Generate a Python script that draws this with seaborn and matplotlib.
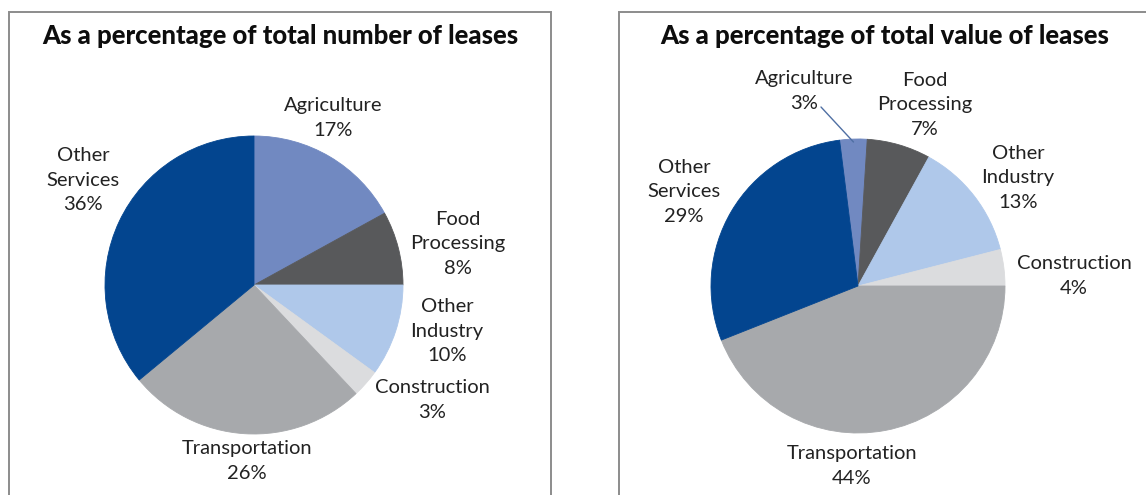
import matplotlib
matplotlib.use("Agg")
import matplotlib.pyplot as plt
import seaborn as sns
import numpy as np
from matplotlib.patches import Rectangle

# Data
categories = ["Agriculture", "Food\nProcessing", "Other\nIndustry",
              "Construction", "Transportation", "Other\nServices"]
share_number = [17, 8, 10, 3, 26, 36]   # % of total number of leases
share_value = [3, 7, 13, 4, 44, 29]     # % of total value of leases
titles = ["As a percentage of total number of leases",
          "As a percentage of total value of leases"]

colors = ["#7189c1", "#58595b", "#afc8ea", "#dbdcde", "#a7a9ac", "#03458f"]

# Layout (pixels in a 1146x495 canvas)
W, H = 1146, 495
panels = [
    dict(values=share_number, title=titles[0], center=(254, 285), radius=149,
         start=90, title_xy=(280, 36), box=(9, 12, 551, 520),
         label_xy=[(333, 118), (458, 244), (447, 331), (432, 400), (247, 461), (83, 180)],
         leader=None),
    dict(values=share_value, title=titles[1], center=(858, 286), radius=147,
         start=97.2, title_xy=(885, 36), box=(619, 12, 1160, 520),
         label_xy=[(804, 91), (925, 105), (1018, 178), (1074, 276), (852, 466), (684, 192)],
         leader=(0, (821, 107))),
]

sns.set_theme(style="white")
plt.rcParams["font.family"] = ["Lato", "DejaVu Sans"]

fig = plt.figure(figsize=(W / 100, H / 100), dpi=100)
fig.patch.set_facecolor("white")


def fig_rect(x0, y0, x1, y1):
    return [x0 / W, 1 - y1 / H, (x1 - x0) / W, (y1 - y0) / H]


for p in panels:
    bx0, by0, bx1, by1 = p["box"]
    fig.add_artist(Rectangle((bx0 / W, 1 - by1 / H), (bx1 - bx0) / W, (by1 - by0) / H,
                             transform=fig.transFigure, fill=False,
                             edgecolor="#8c8c8c", linewidth=1.4))
    fig.text(p["title_xy"][0] / W, 1 - p["title_xy"][1] / H, p["title"],
             ha="center", va="center", fontsize=18.5, fontweight="black", color="#0d0d0d")

    cx, cy = p["center"]
    r = p["radius"]
    ax = fig.add_axes(fig_rect(cx - r, cy - r, cx + r, cy + r))
    wedges, _ = ax.pie(p["values"], colors=colors, startangle=p["start"],
                       counterclock=False, radius=1,
                       wedgeprops=dict(linewidth=0.6))
    for w in wedges:
        w.set_edgecolor(w.get_facecolor())
    ax.set_xlim(-1, 1)
    ax.set_ylim(-1, 1)
    ax.set_aspect("equal")
    ax.axis("off")

    for name, val, (lx, ly) in zip(categories, p["values"], p["label_xy"]):
        ax.text((lx - cx) / r, -(ly - cy) / r, f"{name}\n{val}%",
                ha="center", va="center", multialignment="center",
                fontsize=14.5, linespacing=1.55, color="#222222", clip_on=False)

    if p["leader"] is not None:
        idx, (tx, ty) = p["leader"]
        w = wedges[idx]
        mid = np.deg2rad((w.theta1 + w.theta2) / 2)
        ax.plot([(tx - cx) / r, 0.98 * np.cos(mid)], [-(ty - cy) / r, 0.98 * np.sin(mid)],
                color="#4f6fa3", linewidth=1, clip_on=False)

fig.savefig("out.png", dpi=100)
